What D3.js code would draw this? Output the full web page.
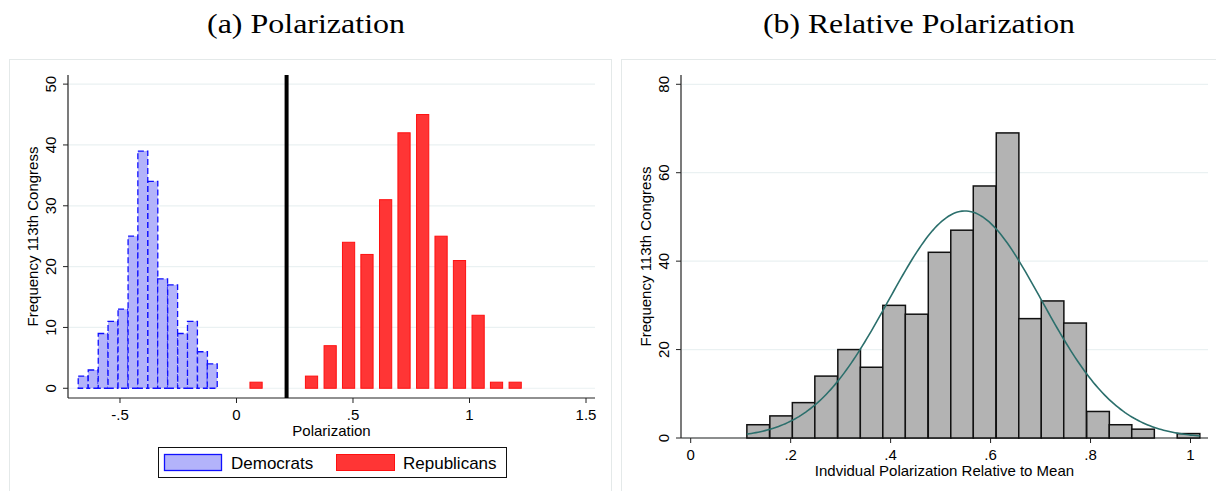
<!DOCTYPE html>
<html>
<head>
<meta charset="utf-8">
<script src="https://cdn.jsdelivr.net/npm/d3@7"></script>
<style>
  body { margin: 0; background: #fff; }
  svg { display: block; }
</style>
</head>
<body>
<div id="chart"></div>
<script>
// Dados - painel (a)
var demCenters = [-0.658, -0.615, -0.572, -0.530, -0.487, -0.444, -0.402, -0.359, -0.317, -0.274, -0.231, -0.189, -0.146, -0.104];
var demCounts  = [2, 3, 9, 11, 13, 25, 39, 34, 18, 17, 9, 11, 6, 4];
var demBinWidth = 0.0426;

var repCenters = [0.084, 0.163, 0.243, 0.322, 0.402, 0.481, 0.560, 0.640, 0.719, 0.799, 0.878, 0.957, 1.037, 1.116, 1.196];
var repCounts  = [1, 0, 0, 2, 7, 24, 22, 31, 42, 45, 25, 21, 12, 1, 1];
var repBarWidth = 0.0524;

var cutLine = 0.215;
var leftXTicks = [-0.5, 0, 0.5, 1, 1.5];
var leftXLabels = ["-.5", "0", ".5", "1", "1.5"];
var leftYTicks = [0, 10, 20, 30, 40, 50];

// Dados - painel (b)
var relCenters = [0.135, 0.181, 0.226, 0.271, 0.317, 0.362, 0.407, 0.452, 0.498, 0.543, 0.588, 0.634, 0.679, 0.724, 0.769, 0.815, 0.860, 0.905, 0.951, 0.996];
var relCounts  = [3, 5, 8, 14, 20, 16, 30, 28, 42, 47, 57, 69, 27, 31, 26, 6, 3, 2, 0, 1];
var relBinWidth = 0.04527;
var normalMean = 0.549;
var normalSd = 0.153;

var rightXTicks = [0, 0.2, 0.4, 0.6, 0.8, 1];
var rightXLabels = ["0", ".2", ".4", ".6", ".8", "1"];
var rightYTicks = [0, 20, 40, 60, 80];

var legendLabels = ["Democrats", "Republicans"];

// Tamanho do svg
var w = 1216, h = 491;
var sans = "'Liberation Sans', Arial, Helvetica, sans-serif";
var serif = "'Liberation Serif', 'Times New Roman', serif";
var gridColor = "#eaf1f2";

var svg = d3.select("#chart")
  .append("svg")
  .attr("width", w)
  .attr("height", h);

// Bordas dos paineis
svg.append("rect").attr("x", 9.5).attr("y", 59.5).attr("width", 602).attr("height", 460)
  .attr("fill", "none").attr("stroke", "#e4e9e9");
svg.append("rect").attr("x", 621.5).attr("y", 59.5).attr("width", 620).attr("height", 460)
  .attr("fill", "none").attr("stroke", "#e4e9e9");

// Titulos
svg.append("text").attr("x", 306).attr("y", 33).attr("text-anchor", "middle")
  .attr("font-family", serif).attr("font-size", "28px")
  .attr("textLength", 198).attr("lengthAdjust", "spacingAndGlyphs")
  .text("(a) Polarization");
svg.append("text").attr("x", 919).attr("y", 33).attr("text-anchor", "middle")
  .attr("font-family", serif).attr("font-size", "28px")
  .attr("textLength", 312).attr("lengthAdjust", "spacingAndGlyphs")
  .text("(b) Relative Polarization");

// Funcao para desenhar eixos no estilo Stata
function drawAxes(g, x, y, xTicks, xLabels, yTicks, xBase, xTitle, yTitle) {
  var x0 = x.range()[0], x1 = x.range()[1];
  var yTop = y.range()[1];

  // Linhas de grade
  g.selectAll(null).data(yTicks).enter().append("line")
    .attr("x1", x0 + 1).attr("x2", x1)
    .attr("y1", function(d) { return y(d); })
    .attr("y2", function(d) { return y(d); })
    .attr("stroke", gridColor).attr("stroke-width", 1.2);

  // Eixo y
  g.append("line").attr("x1", x0).attr("x2", x0).attr("y1", yTop).attr("y2", xBase)
    .attr("stroke", "#222").attr("stroke-width", 1.2);
  g.selectAll(null).data(yTicks).enter().append("line")
    .attr("x1", x0 - 5).attr("x2", x0)
    .attr("y1", function(d) { return y(d); })
    .attr("y2", function(d) { return y(d); })
    .attr("stroke", "#222");
  g.selectAll(null).data(yTicks).enter().append("text")
    .attr("transform", function(d) { return "translate(" + (x0 - 12.5) + "," + y(d) + ") rotate(-90)"; })
    .attr("text-anchor", "middle")
    .attr("font-family", sans).attr("font-size", "15px")
    .text(function(d) { return d; });

  // Eixo x
  g.append("line").attr("x1", x0).attr("x2", x1).attr("y1", xBase).attr("y2", xBase)
    .attr("stroke", "#222").attr("stroke-width", 1.2);
  g.selectAll(null).data(xTicks).enter().append("line")
    .attr("x1", function(d) { return x(d); })
    .attr("x2", function(d) { return x(d); })
    .attr("y1", xBase).attr("y2", xBase + 5)
    .attr("stroke", "#222");
  g.selectAll(null).data(xTicks).enter().append("text")
    .attr("x", function(d) { return x(d); })
    .attr("y", xBase + 21.5)
    .attr("text-anchor", "middle")
    .attr("font-family", sans).attr("font-size", "15px")
    .text(function(d, i) { return xLabels[i]; });

  // Titulos dos eixos
  g.append("text").attr("x", (x0 + x1) / 2).attr("y", xBase + 38)
    .attr("text-anchor", "middle").attr("font-family", sans).attr("font-size", "15px")
    .text(xTitle);
  g.append("text")
    .attr("transform", "translate(" + (x0 - 30) + "," + ((yTop + xBase) / 2) + ") rotate(-90)")
    .attr("text-anchor", "middle").attr("font-family", sans).attr("font-size", "15px")
    .text(yTitle);
}

// ---------------- Painel (a) ----------------
var xa = d3.scaleLinear().domain([-0.7231, 1.5386]).range([68, 595]);
var ya = d3.scaleLinear().domain([-1.6, 51.5]).range([398, 75]);
var ga = svg.append("g");

drawAxes(ga, xa, ya, leftXTicks, leftXLabels, leftYTicks, 398,
  "Polarization", "Frequency 113th Congress");

// Barras democratas
ga.selectAll(null).data(demCenters).enter().append("rect")
  .attr("x", function(d) { return xa(d - demBinWidth / 2); })
  .attr("width", function(d) { return xa(d + demBinWidth / 2) - xa(d - demBinWidth / 2); })
  .attr("y", function(d, i) { return ya(demCounts[i]); })
  .attr("height", function(d, i) { return ya(0) - ya(demCounts[i]); })
  .attr("fill", "#b3b3fa")
  .attr("stroke", "#1010ff").attr("stroke-width", 1.3)
  .attr("stroke-dasharray", "6,3");

// Barras republicanas
ga.selectAll(null).data(repCenters.filter(function(d, i) { return repCounts[i] > 0; })).enter().append("rect")
  .attr("x", function(d) { return xa(d - repBarWidth / 2); })
  .attr("width", function(d) { return xa(d + repBarWidth / 2) - xa(d - repBarWidth / 2); })
  .attr("y", function(d) { return ya(repCounts[repCenters.indexOf(d)]); })
  .attr("height", function(d) { return ya(0) - ya(repCounts[repCenters.indexOf(d)]); })
  .attr("fill", "#ff3535")
  .attr("stroke", "#ff1010").attr("stroke-width", 1);

// Linha vertical
ga.append("line")
  .attr("x1", xa(cutLine)).attr("x2", xa(cutLine))
  .attr("y1", 75).attr("y2", 398)
  .attr("stroke", "#000").attr("stroke-width", 4);

// Legenda
var lg = ga.append("g");
lg.append("rect").attr("x", 158.5).attr("y", 447.5).attr("width", 348).attr("height", 30)
  .attr("fill", "#fff").attr("stroke", "#111");
lg.append("rect").attr("x", 164.5).attr("y", 454.5).attr("width", 57).attr("height", 16)
  .attr("fill", "#b3b3fa").attr("stroke", "#1010ff").attr("stroke-width", 1.3);
lg.append("text").attr("x", 231).attr("y", 469).attr("font-family", sans).attr("font-size", "17px")
  .text(legendLabels[0]);
lg.append("rect").attr("x", 336.5).attr("y", 454.5).attr("width", 58).attr("height", 16)
  .attr("fill", "#ff3535").attr("stroke", "#ff1010");
lg.append("text").attr("x", 403).attr("y", 469).attr("font-family", sans).attr("font-size", "17px")
  .text(legendLabels[1]);

// ---------------- Painel (b) ----------------
var xb = d3.scaleLinear().domain([-0.0194, 1.035]).range([681, 1208]);
var yb = d3.scaleLinear().domain([0, 82.1]).range([438, 75]);
var gb = svg.append("g");

drawAxes(gb, xb, yb, rightXTicks, rightXLabels, rightYTicks, 438,
  "Indvidual Polarization Relative to Mean", "Frequency 113th Congress");

// Barras
gb.selectAll(null).data(relCenters).enter().append("rect")
  .attr("x", function(d) { return xb(d - relBinWidth / 2); })
  .attr("width", function(d) { return xb(d + relBinWidth / 2) - xb(d - relBinWidth / 2); })
  .attr("y", function(d, i) { return yb(relCounts[i]); })
  .attr("height", function(d, i) { return yb(0) - yb(relCounts[i]); })
  .attr("fill", "#b3b3b3")
  .attr("stroke", function(d, i) { return relCounts[i] > 0 ? "#111" : "none"; })
  .attr("stroke-width", 1.5);

// Curva normal ajustada
var nTotal = d3.sum(relCounts);
var lo = relCenters[0] - relBinWidth / 2;
var hi = relCenters[relCenters.length - 1] + relBinWidth / 2;
var curve = d3.range(0, 201).map(function(k) {
  var xv = lo + (hi - lo) * k / 200;
  var z = (xv - normalMean) / normalSd;
  return [xv, nTotal * relBinWidth * Math.exp(-0.5 * z * z) / (normalSd * Math.sqrt(2 * Math.PI))];
});
gb.append("path")
  .datum(curve)
  .attr("d", d3.line().x(function(d) { return xb(d[0]); }).y(function(d) { return yb(d[1]); }))
  .attr("fill", "none")
  .attr("stroke", "#2b6f6c").attr("stroke-width", 1.6);
</script>
</body>
</html>
